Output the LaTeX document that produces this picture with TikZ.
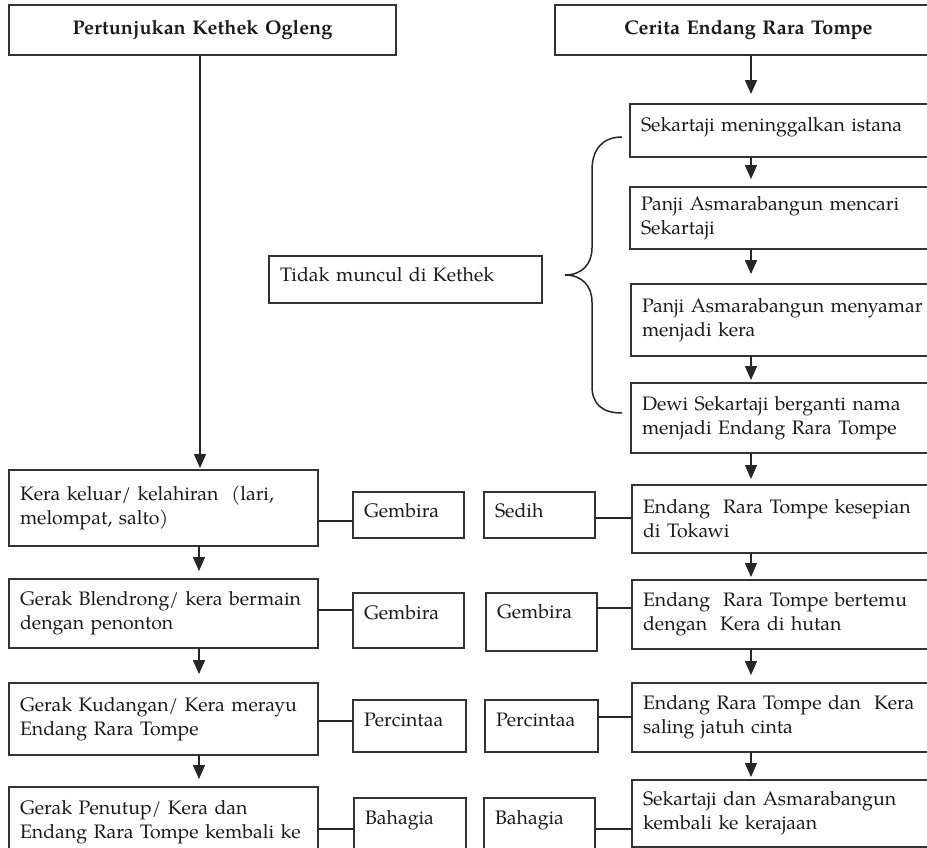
\documentclass[tikz,border=0pt]{standalone}
\usepackage{fontspec}
\setmainfont{TeX Gyre Pagella}
\usetikzlibrary{arrows.meta,calc}
\definecolor{boxc}{HTML}{333333}
\definecolor{txtc}{HTML}{1A1A1A}
\definecolor{linec}{HTML}{262626}
\begin{document}
\begin{tikzpicture}[x=1pt,y=-1pt,
  box/.style={draw=boxc, line width=1.7pt, anchor=north west, inner xsep=11pt, inner ysep=0pt,
    align=left, text=txtc, outer sep=0pt, font=\fontsize{19.5}{24}\selectfont},
  titlebox/.style={box, align=center, font=\fontsize{19.8}{24}\selectfont\bfseries},
  arr/.style={draw=linec, line width=1.5pt, -{Triangle[length=14pt,width=12pt]}},
  conn/.style={draw=linec, line width=1.5pt},
  brace/.style={draw=linec, line width=1.5pt}]
\useasboundingbox (0,0) rectangle (927,847);
\clip (0,0) rectangle (927,847);

% top boxes
\node[titlebox, minimum width=387pt, minimum height=50pt, text width=365pt] (tl) at (9,5) {Pertunjukan Kethek Ogleng};
\node[titlebox, minimum width=387pt, minimum height=50pt, text width=365pt] (tr) at (555,5) {Cerita Endang Rara Tompe};

% right upper column
\node[box, minimum height=53pt, text width=308pt, text depth=12pt] (s1) at (630,104) {Sekartaji meninggalkan istana};
\node[box, minimum height=62pt, text width=308pt] (s2) at (630,187) {Panji Asmarabangun mencari\\Sekartaji};
\node[box, minimum height=72pt, text width=308pt] (s3) at (631,284) {Panji Asmarabangun menyamar\\menjadi kera};
\node[box, minimum height=70pt, text width=308pt] (s4) at (631,383) {Dewi Sekartaji berganti nama\\menjadi Endang Rara Tompe};

\node[box, minimum height=47pt, text width=251pt, text depth=10pt] (tdk) at (269,256) {Tidak muncul di Kethek};

% row 1
\node[box, minimum height=76pt, text width=287pt] (L1) at (9,470) {Kera keluar/ kelahiran\ \ (lari,\\melompat, salto)};
\node[box, minimum height=46pt, text width=89pt, text depth=9pt] (G1) at (353,492) {Gembira};
\node[box, minimum height=46pt, text width=89pt, text depth=9pt] (S1) at (484,492) {Sedih};
\node[box, minimum height=68pt, text width=308pt] (R1) at (632,485) {Endang\ \ Rara Tompe kesepian\\di Tokawi};

% row 2
\node[box, minimum height=69pt, text width=287pt] (L2) at (9,579) {Gerak Blendrong/ kera bermain\\dengan penonton};
\node[box, minimum height=55pt, text width=89pt, text depth=16pt] (G2) at (353,593) {Gembira};
\node[box, minimum height=58pt, text width=89pt, text depth=22pt] (G3) at (486,593) {Gembira};
\node[box, minimum height=69pt, text width=308pt] (R2) at (632,580) {Endang\ \ Rara Tompe bertemu\\dengan\ \ Kera di hutan};

% row 3
\node[box, minimum height=72pt, text width=287pt] (L3) at (9,683) {Gerak Kudangan/ Kera merayu\\Endang Rara Tompe};
\node[box, minimum height=52pt, text width=91pt, text depth=12.5pt] (P1) at (353,700) {Percintaa};
\node[box, minimum height=52pt, text width=91pt, text depth=12.5pt] (P2) at (485,700) {Percintaa};
\node[box, minimum height=69pt, text width=308pt] (R3) at (632,683) {Endang Rara Tompe dan\ \ Kera\\saling jatuh cinta};

% row 4
\node[box, minimum height=71pt, text width=287pt] (L4) at (9,787) {Gerak Penutup/ Kera dan\\Endang Rara Tompe kembali ke};
\node[box, minimum height=52pt, text width=90pt, text depth=13pt] (B1) at (354,798) {Bahagia};
\node[box, minimum height=52pt, text width=89pt, text depth=13pt] (B2) at (484,798) {Bahagia};
\node[box, minimum height=67pt, text width=308pt] (R4) at (632,780) {Sekartaji dan Asmarabangun\\kembali ke kerajaan};

% helper coordinates
\coordinate (tx) at (200,0);
\coordinate (lx) at (199,0);
\coordinate (rx) at (751,0);
\coordinate (h1a) at (0,521); \coordinate (h1b) at (0,518);
\coordinate (h2a) at (0,610); \coordinate (h2b) at (0,608);
\coordinate (h3a) at (0,721); \coordinate (h3b) at (0,717);
\coordinate (h4a) at (0,829); \coordinate (h4b) at (0,829);

% vertical arrows left
\draw[arr, shorten >=2pt] (tl.south -| tx) -- (L1.north -| tx);
\draw[arr, shorten >=8pt] (L1.south -| lx) -- (L2.north -| lx);
\draw[arr, shorten >=9pt] (L2.south -| lx) -- (L3.north -| lx);
\draw[arr, shorten >=8pt] (L3.south -| lx) -- (L4.north -| lx);

% vertical arrows right
\draw[arr, shorten >=10pt] (tr.south -| rx) -- (s1.north -| rx);
\draw[arr, shorten >=8pt] (s1.south -| rx) -- (s2.north -| rx);
\draw[arr, shorten >=10pt] (s2.south -| rx) -- (s3.north -| rx);
\draw[arr, shorten >=3pt] (s3.south -| rx) -- (s4.north -| rx);
\draw[arr, shorten >=6pt] (s4.south -| rx) -- (R1.north -| rx);
\draw[arr, shorten >=3pt] (R1.south -| rx) -- (R2.north -| rx);
\draw[arr, shorten >=8pt] (R2.south -| rx) -- (R3.north -| rx);
\draw[arr, shorten >=3pt] (R3.south -| rx) -- (R4.north -| rx);

% horizontal connectors
\draw[conn] (L1.east |- h1a) -- (G1.west |- h1a);
\draw[conn] (S1.east |- h1b) -- (R1.west |- h1b);
\draw[conn] (L2.east |- h2a) -- (G2.west |- h2a);
\draw[conn] (G3.east |- h2b) -- (R2.west |- h2b);
\draw[conn] (L3.east |- h3a) -- (P1.west |- h3a);
\draw[conn] (P2.east |- h3b) -- (R3.west |- h3b);
\draw[conn] (L4.east |- h4a) -- (B1.west |- h4a);
\draw[conn] (B2.east |- h4b) -- (R4.west |- h4b);

% brace
\draw[brace] (622,137) .. controls (602,137) and (592,150) .. (592,170) -- (592,248)
  .. controls (592,264) and (582,275) .. (565,275)
  .. controls (582,275) and (592,286) .. (592,302) -- (592,386)
  .. controls (592,404) and (602,413) .. (622,413);
\end{tikzpicture}
\end{document}
